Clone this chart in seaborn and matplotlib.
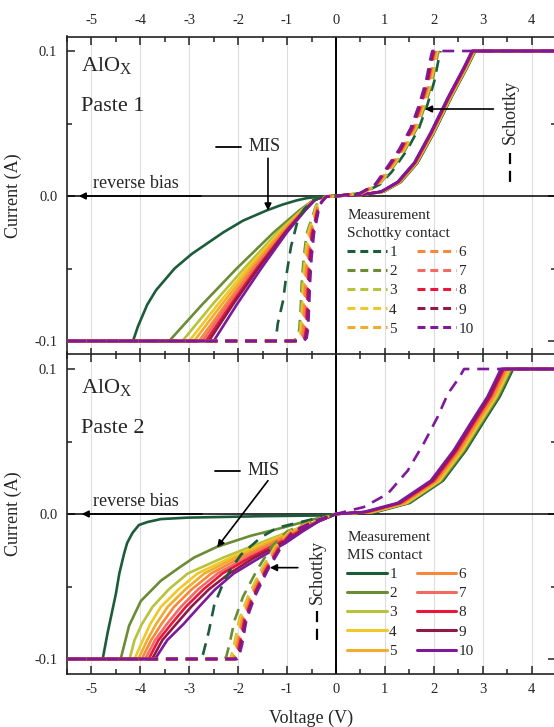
import matplotlib
matplotlib.use('Agg')
import matplotlib.pyplot as plt
from matplotlib.lines import Line2D
from matplotlib.ticker import MultipleLocator, FuncFormatter
import pandas as pd
import seaborn as sns

# ---------------- data ----------------
LABELS = ['1', '2', '3', '4', '5', '6', '7', '8', '9', '10']
COLORS = ['#1d5c3a', '#6a8c35', '#b8c23a', '#f0c828', '#f0ac2a',
          '#f5883a', '#f26b62', '#e8163a', '#8e1a48', '#80189a']
V_MIN, V_MAX = -5.5, 4.5          # sweep range (V)
I_COMPLIANCE = 0.1                # current compliance (A)

# ---- Paste 1, solid curves (MIS) ----
P1_MIS_NEG_I_1 = [0, -0.0003, -0.0015, -0.003, -0.006, -0.01, -0.017, -0.025,
                  -0.04, -0.05, -0.065, -0.075, -0.09, -0.1]
P1_MIS_NEG_I_REST = [0, -0.0003, -0.0015, -0.003, -0.01, -0.025, -0.05, -0.075, -0.1]
P1_MIS_NEG_V = [
    [0, -0.30, -0.60, -0.80, -1.10, -1.42, -1.90, -2.30, -2.95, -3.30, -3.68, -3.86, -4.05, -4.15],
    [0, -0.20, -0.35, -0.47, -0.75, -1.27, -2.03, -2.74, -3.41],
    [0, -0.20, -0.35, -0.46, -0.71, -1.19, -1.88, -2.53, -3.14],
    [0, -0.20, -0.35, -0.46, -0.69, -1.15, -1.81, -2.42, -3.00],
    [0, -0.20, -0.35, -0.45, -0.68, -1.12, -1.75, -2.34, -2.90],
    [0, -0.20, -0.35, -0.45, -0.67, -1.09, -1.70, -2.26, -2.80],
    [0, -0.20, -0.35, -0.45, -0.66, -1.06, -1.66, -2.21, -2.73],
    [0, -0.20, -0.35, -0.44, -0.65, -1.04, -1.62, -2.15, -2.66],
    [0, -0.20, -0.35, -0.44, -0.64, -1.03, -1.59, -2.11, -2.60],
    [0, -0.20, -0.35, -0.44, -0.63, -1.00, -1.53, -2.03, -2.50],
]
P1_MIS_POS_I = [0, 0.0008, 0.003, 0.0097, 0.023, 0.044, 0.068, 0.089, 0.1]
P1_MIS_POS_V = [
    [0, 0.53, 0.98, 1.33, 1.67, 2.01, 2.36, 2.69, 2.85],
    [0, 0.53, 0.97, 1.32, 1.66, 2.00, 2.35, 2.68, 2.84],
    [0, 0.52, 0.96, 1.31, 1.65, 1.99, 2.34, 2.67, 2.83],
    [0, 0.52, 0.95, 1.30, 1.64, 1.99, 2.34, 2.67, 2.83],
    [0, 0.52, 0.95, 1.30, 1.64, 1.98, 2.33, 2.66, 2.82],
    [0, 0.51, 0.94, 1.29, 1.63, 1.97, 2.32, 2.65, 2.81],
    [0, 0.51, 0.94, 1.28, 1.62, 1.97, 2.32, 2.65, 2.81],
    [0, 0.51, 0.93, 1.28, 1.62, 1.96, 2.31, 2.64, 2.80],
    [0, 0.50, 0.93, 1.27, 1.61, 1.95, 2.30, 2.63, 2.79],
    [0, 0.50, 0.92, 1.26, 1.60, 1.94, 2.29, 2.62, 2.78],
]

# ---- Paste 1, dashed curves (Schottky) ----
P1_SCH_NEG_I_1 = [0, -0.0005, -0.003, -0.009, -0.0166, -0.035, -0.056, -0.072, -0.088, -0.099, -0.1]
P1_SCH_NEG_I_REST = [0, -0.0005, -0.006, -0.026, -0.043, -0.06, -0.077, -0.092, -0.098, -0.1]
P1_SCH_NEG_V = [
    [0, -0.30, -0.47, -0.65, -0.78, -0.92, -1.02, -1.08, -1.19, -1.23, -1.25],
    [0, -0.22, -0.40, -0.60, -0.66, -0.70, -0.72, -0.75, -0.80, -0.88],
    [0, -0.22, -0.39, -0.58, -0.64, -0.68, -0.70, -0.73, -0.78, -0.85],
    [0, -0.21, -0.38, -0.56, -0.62, -0.66, -0.68, -0.71, -0.75, -0.83],
    [0, -0.21, -0.37, -0.54, -0.60, -0.64, -0.66, -0.69, -0.73, -0.80],
    [0, -0.21, -0.36, -0.52, -0.58, -0.62, -0.64, -0.67, -0.70, -0.77],
    [0, -0.21, -0.35, -0.50, -0.56, -0.59, -0.61, -0.64, -0.67, -0.74],
    [0, -0.20, -0.35, -0.49, -0.54, -0.57, -0.59, -0.61, -0.64, -0.71],
    [0, -0.20, -0.34, -0.47, -0.52, -0.55, -0.57, -0.59, -0.62, -0.69],
    [0, -0.20, -0.33, -0.45, -0.50, -0.53, -0.55, -0.57, -0.60, -0.66],
]
P1_SCH_POS_I = [0, 0.002, 0.008, 0.0166, 0.032, 0.047, 0.063, 0.079, 0.096, 0.1]
P1_SCH_POS_V = [
    [0, 0.55, 0.90, 1.14, 1.46, 1.70, 1.87, 2.01, 2.11, 2.14],
    [0, 0.54, 0.88, 1.10, 1.42, 1.66, 1.83, 1.97, 2.07, 2.10],
    [0, 0.53, 0.87, 1.08, 1.40, 1.64, 1.81, 1.95, 2.05, 2.08],
    [0, 0.53, 0.86, 1.07, 1.39, 1.63, 1.80, 1.94, 2.04, 2.07],
    [0, 0.52, 0.85, 1.05, 1.37, 1.61, 1.78, 1.92, 2.02, 2.05],
    [0, 0.52, 0.84, 1.04, 1.36, 1.60, 1.77, 1.91, 2.01, 2.04],
    [0, 0.51, 0.83, 1.02, 1.34, 1.58, 1.75, 1.89, 1.99, 2.02],
    [0, 0.51, 0.82, 1.01, 1.33, 1.57, 1.74, 1.88, 1.98, 2.01],
    [0, 0.50, 0.81, 1.00, 1.31, 1.55, 1.72, 1.86, 1.96, 1.99],
    [0, 0.50, 0.80, 0.98, 1.29, 1.53, 1.70, 1.84, 1.94, 1.97],
]
# which dashed curves of paste 1 show the compliance plateau up to V_MAX
P1_SCH_PLATEAU = [False] * 9 + [True]

# ---- Paste 2, solid curves (MIS) ----
P2_MIS_NEG_I_1 = [0, -0.001, -0.0015, -0.0025, -0.0035, -0.0055, -0.0076, -0.013,
                  -0.02, -0.027, -0.041, -0.055, -0.082, -0.1]
P2_MIS_NEG_I_2 = [0, -0.004, -0.0097, -0.015, -0.0226, -0.03, -0.0366, -0.046,
                  -0.06, -0.077, -0.097, -0.1]
P2_MIS_NEG_I_REST = [0, -0.005, -0.012, -0.02, -0.03, -0.041, -0.052, -0.064, -0.076, -0.087, -0.1]
P2_MIS_NEG_V = [
    [0, -0.30, -1.50, -3.03, -3.58, -3.85, -4.03, -4.16, -4.27, -4.33, -4.43, -4.50, -4.67, -4.77],
    [0, -0.50, -1.12, -1.74, -2.43, -2.90, -3.19, -3.58, -3.99, -4.23, -4.38, -4.40],
    [0, -0.38, -0.95, -1.55, -2.30, -3.03, -3.42, -3.75, -3.97, -4.12, -4.22],
    [0, -0.38, -0.90, -1.45, -2.15, -2.83, -3.22, -3.58, -3.80, -3.95, -4.12],
    [0, -0.37, -0.86, -1.38, -2.05, -2.69, -3.08, -3.44, -3.68, -3.86, -4.04],
    [0, -0.37, -0.82, -1.30, -1.94, -2.55, -2.95, -3.31, -3.57, -3.78, -3.97],
    [0, -0.36, -0.78, -1.22, -1.83, -2.42, -2.82, -3.17, -3.46, -3.70, -3.90],
    [0, -0.36, -0.75, -1.16, -1.75, -2.32, -2.71, -3.07, -3.37, -3.63, -3.83],
    [0, -0.35, -0.72, -1.10, -1.66, -2.18, -2.60, -2.96, -3.27, -3.55, -3.76],
    [0, -0.35, -0.68, -1.03, -1.55, -2.09, -2.47, -2.80, -3.12, -3.45, -3.70],
]
P2_MIS_POS_I = [0, 0.0014, 0.0076, 0.023, 0.044, 0.063, 0.081, 0.097, 0.1]
P2_MIS_POS_V = [
    [0, 0.82, 1.51, 2.19, 2.66, 3.01, 3.35, 3.58, 3.62],
    [0, 0.79, 1.48, 2.16, 2.63, 2.98, 3.32, 3.55, 3.59],
    [0, 0.76, 1.45, 2.13, 2.60, 2.95, 3.29, 3.52, 3.56],
    [0, 0.74, 1.43, 2.11, 2.58, 2.93, 3.27, 3.50, 3.54],
    [0, 0.71, 1.40, 2.08, 2.55, 2.90, 3.24, 3.47, 3.51],
    [0, 0.68, 1.37, 2.05, 2.52, 2.87, 3.21, 3.44, 3.48],
    [0, 0.65, 1.34, 2.02, 2.49, 2.84, 3.18, 3.41, 3.45],
    [0, 0.63, 1.32, 2.00, 2.47, 2.82, 3.16, 3.39, 3.43],
    [0, 0.60, 1.29, 1.97, 2.44, 2.79, 3.13, 3.36, 3.40],
    [0, 0.57, 1.26, 1.94, 2.41, 2.76, 3.10, 3.33, 3.37],
]

# ---- Paste 2, dashed curves (Schottky) ----
P2_SCH_NEG_I_1 = [0, -0.003, -0.007, -0.0095, -0.016, -0.028, -0.038, -0.048, -0.063, -0.081, -0.097, -0.1]
P2_SCH_NEG_I_REST = [0, -0.005, -0.012, -0.023, -0.039, -0.057, -0.073, -0.09, -0.098, -0.1]
P2_SCH_NEG_V = [
    [0, -0.40, -0.90, -1.20, -1.53, -1.94, -2.15, -2.31, -2.49, -2.60, -2.72, -2.76],
    [0, -0.50, -1.00, -1.33, -1.62, -1.90, -2.07, -2.18, -2.24, -2.27],
    [0, -0.47, -0.95, -1.26, -1.54, -1.80, -1.98, -2.08, -2.14, -2.16],
    [0, -0.46, -0.94, -1.24, -1.52, -1.78, -1.96, -2.06, -2.12, -2.14],
    [0, -0.46, -0.93, -1.22, -1.50, -1.76, -1.93, -2.03, -2.09, -2.11],
    [0, -0.45, -0.91, -1.20, -1.48, -1.74, -1.91, -2.01, -2.07, -2.09],
    [0, -0.44, -0.90, -1.18, -1.46, -1.72, -1.89, -1.99, -2.05, -2.07],
    [0, -0.44, -0.88, -1.16, -1.44, -1.70, -1.87, -1.97, -2.03, -2.05],
    [0, -0.43, -0.87, -1.14, -1.42, -1.68, -1.85, -1.95, -2.00, -2.02],
    [0, -0.42, -0.85, -1.12, -1.40, -1.66, -1.83, -1.92, -1.98, -2.00],
]
# forward branch visible only for measurement 10
P2_SCH_POS_I = [0, 0.0048, 0.014, 0.03, 0.049, 0.067, 0.083, 0.094, 0.1]
P2_SCH_POS_V_10 = [0, 0.57, 1.06, 1.47, 1.80, 2.08, 2.29, 2.52, 2.62]

# ---------------- style ----------------
sns.set_style('white')
plt.rcParams['font.family'] = ['Liberation Serif', 'DejaVu Serif']
plt.rcParams['mathtext.fontset'] = 'custom'
plt.rcParams['mathtext.rm'] = 'Liberation Serif'
plt.rcParams['mathtext.it'] = 'Liberation Serif:italic'
plt.rcParams['axes.unicode_minus'] = False

SOLID_LW = 1.9
DASH = (0, (4.5, 3.0))


def draw_group(ax, neg_V, neg_I, pos_V, pos_I, plateau, linestyle):
    for k in range(10):
        V = [V_MIN] + neg_V[k][::-1]
        I = [-I_COMPLIANCE] + neg_I[k][::-1]
        if pos_V[k] is not None:
            V = V + pos_V[k][1:]
            I = I + pos_I[1:]
            if plateau[k]:
                V = V + [V_MAX]
                I = I + [I_COMPLIANCE]
        df = pd.DataFrame({'V': V, 'I': I})
        sns.lineplot(data=df, x='V', y='I', sort=False, estimator=None,
                     color=COLORS[k], linewidth=SOLID_LW, linestyle=linestyle,
                     solid_joinstyle='round', dash_joinstyle='round',
                     ax=ax, legend=False, zorder=3)


fig = plt.figure(figsize=(5.54, 7.27), dpi=100)
W, H = 554.0, 727.0
ax1 = fig.add_axes([67 / W, 1 - 355.5 / H, 489 / W, 319 / H])
ax2 = fig.add_axes([67 / W, 1 - 673.5 / H, 489 / W, 319 / H])

all_plateau = [True] * 10
p1_mis_I = [P1_MIS_NEG_I_1] + [P1_MIS_NEG_I_REST] * 9
p1_sch_I = [P1_SCH_NEG_I_1] + [P1_SCH_NEG_I_REST] * 9
p2_mis_I = [P2_MIS_NEG_I_1, P2_MIS_NEG_I_2] + [P2_MIS_NEG_I_REST] * 8
p2_sch_I = [P2_SCH_NEG_I_1] + [P2_SCH_NEG_I_REST] * 9
p2_sch_pos = [None] * 9 + [P2_SCH_POS_V_10]

draw_group(ax1, P1_MIS_NEG_V, p1_mis_I, P1_MIS_POS_V, P1_MIS_POS_I, all_plateau, '-')
draw_group(ax1, P1_SCH_NEG_V, p1_sch_I, P1_SCH_POS_V, P1_SCH_POS_I, P1_SCH_PLATEAU, DASH)
draw_group(ax2, P2_MIS_NEG_V, p2_mis_I, P2_MIS_POS_V, P2_MIS_POS_I, all_plateau, '-')
draw_group(ax2, P2_SCH_NEG_V, p2_sch_I, p2_sch_pos, P2_SCH_POS_I, all_plateau, DASH)

xfmt = FuncFormatter(lambda v, p: f'{round(v):d}')
yfmt = FuncFormatter(lambda v, p: f'{round(v, 2) + 0.0:.1f}')
for ax in (ax1, ax2):
    ax.set_xlim(V_MIN, V_MAX)
    ax.set_ylim(-0.11, 0.11)
    ax.xaxis.set_major_locator(MultipleLocator(1))
    ax.xaxis.set_minor_locator(MultipleLocator(0.5))
    ax.yaxis.set_major_locator(MultipleLocator(0.1))
    ax.yaxis.set_minor_locator(MultipleLocator(0.05))
    ax.xaxis.set_major_formatter(xfmt)
    ax.yaxis.set_major_formatter(yfmt)
    ax.tick_params(which='both', direction='in', top=True, bottom=True,
                   left=True, right=True, width=1.1, color='#222222',
                   labelsize=10.5, pad=7)
    ax.tick_params(which='major', length=6)
    ax.tick_params(which='minor', length=3.5)
    ax.grid(axis='x', which='major', color='#dddddd', linewidth=0.8)
    ax.set_axisbelow(True)
    for s in ax.spines.values():
        s.set_linewidth(1.2)
        s.set_color('#222222')
    ax.axvline(0, color='black', linewidth=1.4, zorder=2)
    ax.axhline(0, color='black', linewidth=1.1, zorder=2)
    ax.set_ylabel('Current (A)', fontsize=13)
    ax.yaxis.set_label_coords(-0.092, 0.5)
    ax.set_xlabel('')

ax1.tick_params(labeltop=True, labelbottom=False)
ax2.tick_params(labeltop=False, labelbottom=True)
ax2.set_xlabel('Voltage (V)', fontsize=13)
ax2.xaxis.set_label_coords(0.5, -0.114)

ARROW = dict(arrowstyle='-|>', color='black', lw=1.2, mutation_scale=10,
             shrinkA=0, shrinkB=0)

# --- annotations, panel 1 ---
ax1.text(-5.21, 0.0897, r'AlO$_{\mathrm{X}}$', fontsize=16, va='center')
ax1.text(-5.21, 0.062, 'Paste 1', fontsize=16, va='center')
ax1.text(-4.97, 0.003, 'reverse bias', fontsize=13, va='bottom')
ax1.annotate('', xy=(-5.26, 0), xytext=(-2.76, 0), arrowprops=ARROW)
ax1.plot([-2.45, -1.94], [0.034, 0.034], color='black', lw=1.3)
ax1.text(-1.78, 0.034, 'MIS', fontsize=13, va='center')
ax1.annotate('', xy=(-1.39, -0.010), xytext=(-1.39, 0.026), arrowprops=ARROW)
ax1.text(3.56, 0.058, 'Schottky', fontsize=13, rotation=90, ha='center', va='center')
ax1.plot([3.56, 3.56], [0.030, 0.006], color='black', lw=1.6, linestyle=(0, (5, 3)))
ax1.annotate('', xy=(1.82, 0.060), xytext=(3.22, 0.060), arrowprops=ARROW)

# --- annotations, panel 2 ---
ax2.text(-5.21, 0.087, r'AlO$_{\mathrm{X}}$', fontsize=16, va='center')
ax2.text(-5.21, 0.059, 'Paste 2', fontsize=16, va='center')
ax2.text(-4.97, 0.003, 'reverse bias', fontsize=13, va='bottom')
ax2.annotate('', xy=(-5.2, 0), xytext=(-2.74, 0), arrowprops=ARROW)
ax2.plot([-2.47, -1.96], [0.030, 0.030], color='black', lw=1.3)
ax2.text(-1.80, 0.030, 'MIS', fontsize=13, va='center')
ax2.annotate('', xy=(-2.43, -0.023), xytext=(-1.39, 0.023), arrowprops=ARROW)
ax2.text(-0.39, -0.040, 'Schottky', fontsize=13, rotation=90, ha='center', va='center')
ax2.plot([-0.39, -0.39], [-0.067, -0.090], color='black', lw=1.6, linestyle=(0, (5, 3)))
ax2.annotate('', xy=(-1.35, -0.037), xytext=(-0.78, -0.037), arrowprops=ARROW)


# --- legends ---
def make_legend(ax, title, linestyle, anchor):
    handles = [Line2D([], [], color=c, lw=2.2, linestyle=linestyle) for c in COLORS]
    leg = ax.legend(handles, LABELS, title=title, ncol=2, frameon=False,
                    loc='upper left', bbox_to_anchor=anchor, fontsize=11,
                    title_fontsize=11, handlelength=2.6, handletextpad=0.15,
                    columnspacing=1.3, labelspacing=0.36, borderpad=0,
                    borderaxespad=0, alignment='left')
    leg.get_title().set_linespacing(1.5)
    return leg


make_legend(ax1, 'Measurement\nSchottky contact', (0, (2.6, 1.6)), (0.573, 0.46))
make_legend(ax2, 'Measurement\nMIS contact', '-', (0.573, 0.447))

fig.savefig('out.png', dpi=100)
